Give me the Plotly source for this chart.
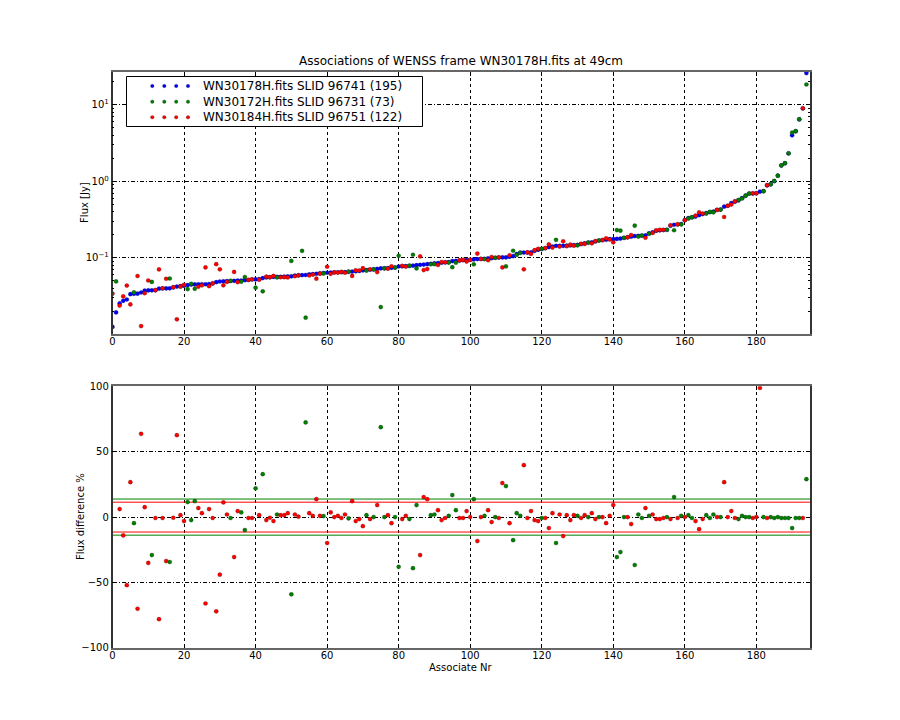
import plotly.graph_objects as go

# ---------------- data ----------------
associate_nr = list(range(195))

blue_flux = [
    0.0125, 0.0193, 0.0253, 0.0274, 0.0285, 0.0335, 0.0338, 0.034, 0.0352, 0.0372,
    0.0374, 0.0375, 0.0376, 0.0395, 0.0397, 0.0398, 0.0399, 0.041, 0.042, 0.0426,
    0.043, 0.044, 0.0446, 0.0448, 0.0449, 0.045, 0.0451, 0.0453, 0.046, 0.048,
    0.049, 0.0492, 0.0494, 0.0497, 0.05, 0.0503, 0.0505, 0.051, 0.0512, 0.052,
    0.0522, 0.0525, 0.0543, 0.0553, 0.0555, 0.0562, 0.0564, 0.0565, 0.0566, 0.057,
    0.0572, 0.0585, 0.059, 0.0592, 0.0595, 0.0605, 0.061, 0.0618, 0.0625, 0.063,
    0.0637, 0.064, 0.0643, 0.0646, 0.0648, 0.065, 0.0655, 0.066, 0.0665, 0.0672,
    0.0683, 0.069, 0.0697, 0.0705, 0.0715, 0.0725, 0.0728, 0.0732, 0.0738, 0.0745,
    0.0769, 0.0772, 0.0776, 0.078, 0.0788, 0.08, 0.0808, 0.0815, 0.0825, 0.0835,
    0.0843, 0.0852, 0.086, 0.0868, 0.0875, 0.0905, 0.091, 0.0918, 0.093, 0.0935,
    0.094, 0.095, 0.096, 0.0965, 0.097, 0.098, 0.0985, 0.1, 0.1005, 0.101,
    0.101, 0.103, 0.105, 0.112, 0.117, 0.117, 0.117, 0.118, 0.123, 0.127,
    0.13, 0.133, 0.138, 0.14, 0.143, 0.143, 0.143, 0.144, 0.145, 0.146,
    0.147, 0.151, 0.154, 0.158, 0.159, 0.163, 0.168, 0.17, 0.172, 0.175,
    0.175, 0.176, 0.178, 0.182, 0.185, 0.188, 0.192, 0.193, 0.194, 0.196,
    0.208, 0.215, 0.225, 0.228, 0.23, 0.232, 0.262, 0.27, 0.272, 0.275,
    0.31, 0.33, 0.336, 0.345, 0.36, 0.372, 0.383, 0.395, 0.4, 0.422,
    0.426, 0.465, 0.478, 0.519, 0.54, 0.56, 0.6, 0.646, 0.69, 0.69,
    0.695, 0.73, 0.74, 0.88, 0.91, 1.0, 1.18, 1.6, 1.71, 2.3,
    3.97, 4.48, 6.4, 8.9, 25.8,
]

# which other frame the associate came from: 'g' = WN30172H, 'r' = WN30184H
partner_frame = list(
    "rgrrrrgrrr"
    "rgrrrrgrrr"
    "rgggrrrrrr"
    "rrrgrrggrr"
    "grgrrrgrrr"
    "grrggrrrrg"
    "rrrrrrgrrr"
    "rgrgrggrrg"
    "grrgggrrrg"
    "grrrgggrrr"
    "rgrrgrrgrr"
    "grgggrrrrr"
    "grrrgrrrrr"
    "grrgrrgrrr"
    "rgggrrgggr"
    "grrrrgrgrg"
    "rggrrrgggr"
    "grrrrggggr"
    "rrgrgggggg"
    "gggrg"
)

# flux difference in percent: (blue - other) / blue * 100
partner_pct = [
    -172, -154, 6.1, -14, -52, 26.7, -4.6, -70, 63.6, 7.6,
    -35, -29, -0.7, -78, -0.7, -33.6, -34.3, -0.5, 62.6, 1.5,
    -3, 11.5, -2.3, 12.2, 6.9, 3, -66, 6.1, -0.7, -72,
    -44, 11.2, 2, -0.7, -30.5, 4.6, 3.6, -9.9, -0.7, -0.7,
    22, 1.5, 32.8, -2.3, -0.5, -3, 2, 1.5, 1.5, 3,
    -59, 2, 0.3, -108, 72.3, 3, 1, 13.7, 1, 0.8,
    -19.8, 3.6, 0, 1, -0.7, 2, -1, 12.2, -3, -1.5,
    -6.9, 1.5, -1.5, 0, 9.2, 68.7, 0, 1.5, -4.6, 0,
    -38, -1.5, 1, -1.5, -39, 9.2, -29, 15.3, 13.7, 1.5,
    2, 5.3, -2.3, -0.7, 1, 16.8, 5.3, -0.7, -0.7, 4.6,
    0, 13.7, -18.3, 0, 1, 5.3, -3.8, 0, -0.7, 26,
    23.7, -4.6, -17.6, 3, 1, 39.7, -0.7, 4.6, -2.3, -3,
    -0.7, -0.7, -8.4, 3, -19.8, 2, -14.5, 1.5, -2.3, 1.5,
    1, -0.7, 1.5, 0, 3, -1.5, 0, 0, -4.6, 1,
    9.2, -30.5, -26.7, 0, 0, -5.3, -36.6, 2, -0.7, 6.9,
    1, 2, -1.5, -1.5, -0.7, 0, -1.5, 15.3, -0.7, 1,
    0, 1.5, -0.7, -3, -9.2, -1.5, 1.5, -0.7, 2, 0,
    0, 26.7, 0, 4.6, -0.7, -1.5, 1, 0, 0, -0.7,
    0, 98.7, 0, -0.7, 0, -0.7, 0, -0.7, -0.7, -0.7,
    -8.4, -0.7, -0.7, -0.7, 29,
]

legend_labels = [
    "WN30178H.fits SLID 96741 (195)",
    "WN30172H.fits SLID 96731 (73)",
    "WN30184H.fits SLID 96751 (122)",
]
red_limit = [11.4, -11.4]
green_limit = [13.8, -13.8]

title_text = "Associations of WENSS frame WN30178H.fits at 49cm"
top_ylabel = "Flux [Jy]"
bottom_ylabel = "Flux difference %"
bottom_xlabel = "Associate Nr"
x_ticks = [0, 20, 40, 60, 80, 100, 120, 140, 160, 180]
top_yticks = [0.1, 1, 10]
top_yticktext = ["10<sup>−1</sup>", "10<sup>0</sup>", "10<sup>1</sup>"]
bottom_yticks = [-100, -50, 0, 50, 100]

# ---------------- derived ----------------
colors = {"b": "#0000ff", "g": "#007f00", "r": "#ff0000"}

def split(frame):
    xs, fl, pc = [], [], []
    for i, f, b, p in zip(associate_nr, partner_frame, blue_flux, partner_pct):
        if f == frame:
            xs.append(i)
            pc.append(p)
            v = b * (1 - p / 100.0)
            fl.append(v if v > 0 else None)
    return xs, fl, pc

gx, gflux, gpct = split("g")
rx, rflux, rpct = split("r")

FONT = "DejaVu Sans"
EDGE = "rgba(0,0,0,0.4)"

def mk(color):
    return dict(color=color, size=4.2, line=dict(width=0.5, color=EDGE))

fig = go.Figure()
# top panel
fig.add_trace(go.Scatter(x=associate_nr, y=blue_flux, mode="markers", marker=mk(colors["b"]),
                         xaxis="x", yaxis="y", showlegend=False))
fig.add_trace(go.Scatter(x=gx, y=gflux, mode="markers", marker=mk(colors["g"]),
                         xaxis="x", yaxis="y", showlegend=False))
fig.add_trace(go.Scatter(x=rx, y=rflux, mode="markers", marker=mk(colors["r"]),
                         xaxis="x", yaxis="y", showlegend=False))
# bottom panel limit lines
for v in green_limit:
    fig.add_trace(go.Scatter(x=[0, 195], y=[v, v], mode="lines", line=dict(color=colors["g"], width=1),
                             xaxis="x2", yaxis="y2", showlegend=False))
for v in red_limit:
    fig.add_trace(go.Scatter(x=[0, 195], y=[v, v], mode="lines", line=dict(color=colors["r"], width=1),
                             xaxis="x2", yaxis="y2", showlegend=False))
fig.add_trace(go.Scatter(x=gx, y=gpct, mode="markers", marker=mk(colors["g"]),
                         xaxis="x2", yaxis="y2", showlegend=False))
fig.add_trace(go.Scatter(x=rx, y=rpct, mode="markers", marker=mk(colors["r"]),
                         xaxis="x2", yaxis="y2", showlegend=False))

W, H = 900, 720
L, R = 0.125, 0.9
top_dom = [0.5364, 0.9]
bot_dom = [0.1, 0.4636]

xcommon = dict(range=[0, 195], tickvals=x_ticks, ticks="inside", ticklen=4, tickcolor="black",
               mirror="allticks", showline=True, linecolor="#666", linewidth=1.5,
               showgrid=True, gridcolor="black", gridwidth=1, griddash="3px,3px",
               zeroline=False, automargin=False, ticklabelstandoff=-3,
               tickfont=dict(family=FONT, size=10, color="black"))
ycommon = dict(ticks="inside", ticklen=4, tickcolor="black", mirror="allticks", showline=True,
               linecolor="#333", linewidth=1.5, showgrid=True, gridcolor="black", gridwidth=1,
               griddash="4px,2px,1px,2px", zeroline=False, automargin=False,
               tickfont=dict(family=FONT, size=10, color="black"))

minor_vals = [k * 10 ** e for e in (-2, -1, 0, 1) for k in range(2, 10)]

fig.update_layout(
    template="none",
    width=W, height=H, autosize=False,
    margin=dict(l=0, r=0, t=0, b=0, pad=0, autoexpand=False),
    paper_bgcolor="white", plot_bgcolor="white",
    font=dict(family=FONT, color="black"),
    showlegend=False,
    xaxis=dict(domain=[L, R], anchor="y", **xcommon),
    yaxis=dict(domain=top_dom, anchor="x", type="log", range=[-1.993, 1.426],
               tickvals=top_yticks, ticktext=top_yticktext,
               minor=dict(tickvals=minor_vals, ticks="inside", ticklen=2, tickcolor="black", showgrid=False),
               **ycommon),
    xaxis2=dict(domain=[L, R], anchor="y2", **xcommon),
    yaxis2=dict(domain=bot_dom, anchor="x2", range=[-100, 100], tickvals=bottom_yticks, **ycommon),
)

annotations = [
    dict(text=title_text, x=(L + R) / 2, y=1 - 61 / H, xref="paper", yref="paper",
         showarrow=False, font=dict(family=FONT, size=12), xanchor="center", yanchor="middle"),
    dict(text=top_ylabel, x=85 / W, y=sum(top_dom) / 2, xref="paper", yref="paper", textangle=-90,
         showarrow=False, font=dict(family=FONT, size=10), xanchor="center", yanchor="middle"),
    dict(text=bottom_ylabel, x=80 / W, y=sum(bot_dom) / 2, xref="paper", yref="paper", textangle=-90,
         showarrow=False, font=dict(family=FONT, size=10), xanchor="center", yanchor="middle"),
    dict(text=bottom_xlabel, x=(L + R) / 2, y=1 - 667 / H, xref="paper", yref="paper",
         showarrow=False, font=dict(family=FONT, size=10), xanchor="center", yanchor="middle"),
]

# custom legend (matplotlib style with four dots per entry)
shapes = [dict(type="rect", xref="paper", yref="paper", x0=126.5 / W, x1=422.5 / W,
               y0=1 - 126.5 / H, y1=1 - 76.5 / H, line=dict(color="black", width=1),
               fillcolor="white", layer="above")]
row_y = [86, 101.7, 117.3]
dot_x = [152.3, 164.3, 176.2, 188.0]
for lab, c, yy in zip(legend_labels, [colors["b"], colors["g"], colors["r"]], row_y):
    for xx in dot_x:
        shapes.append(dict(type="circle", xref="paper", yref="paper",
                           x0=(xx - 1.8) / W, x1=(xx + 1.8) / W, y0=1 - (yy + 1.8) / H, y1=1 - (yy - 1.8) / H,
                           fillcolor=c, line=dict(color=EDGE, width=0.5), layer="above"))
    annotations.append(dict(text=lab, x=201 / W, y=1 - yy / H, xref="paper", yref="paper",
                            showarrow=False, font=dict(family=FONT, size=12), xanchor="left",
                            yanchor="middle"))

fig.update_layout(annotations=annotations, shapes=shapes)
fig.write_html("out.html", config={"displayModeBar": False},
               post_script="document.body.style.margin='0';")
